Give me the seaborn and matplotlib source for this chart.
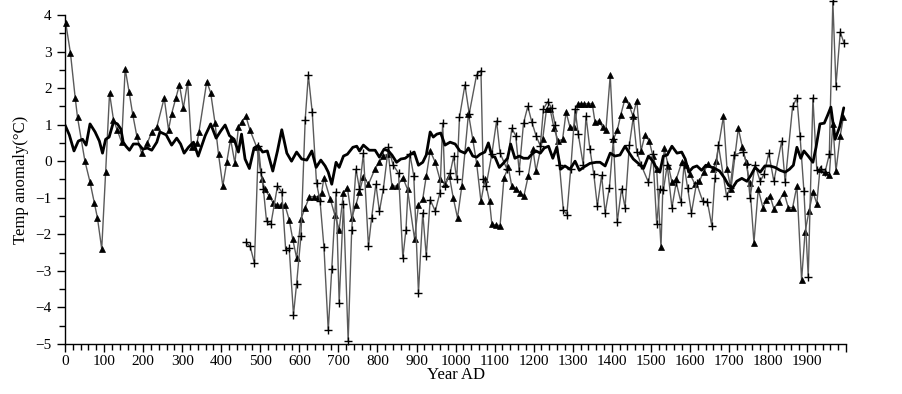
import matplotlib
matplotlib.use("Agg")
import matplotlib.pyplot as plt
import seaborn as sns
import numpy as np
from matplotlib.ticker import MultipleLocator

sns.set_theme(context="paper", style="ticks")
plt.rcParams["font.family"] = ["Liberation Serif", "DejaVu Serif"]

# Triangle series (years, anomaly)
tri_years = [2, 14, 26, 32, 51, 64, 75, 83, 94, 104, 114, 124, 134, 145, 154, 164, 173, 184, 196,
             211, 222, 235, 254, 265, 273, 284, 293, 303, 314, 324, 338, 343, 363, 373, 384, 393,
             404, 414, 424, 435, 444, 452, 463, 474, 491, 504, 512, 523, 533, 543, 553, 563, 574,
             583, 593, 604, 615, 626, 638, 649, 657, 663, 679, 691, 702, 713, 723, 734, 745, 754,
             764, 777, 794, 805, 815, 828, 837, 851, 865, 877, 895, 905, 916, 925, 935, 948, 960,
             973, 984, 994, 1005, 1016, 1033, 1044, 1054, 1065, 1075, 1087, 1093, 1103, 1114, 1124,
             1135, 1144, 1155, 1165, 1175, 1186, 1198, 1206, 1223, 1233, 1242, 1252, 1263, 1274,
             1283, 1293, 1303, 1314, 1322, 1330, 1340, 1350, 1357, 1366, 1377, 1385, 1396, 1404,
             1414, 1423, 1434, 1444, 1454, 1464, 1475, 1485, 1496, 1505, 1515, 1526, 1534, 1545,
             1554, 1565, 1579, 1590, 1600, 1613, 1624, 1635, 1647, 1660, 1667, 1686, 1695, 1705,
             1724, 1734, 1744, 1753, 1764, 1775, 1787, 1795, 1805, 1815, 1827, 1841, 1852, 1863,
             1874, 1886, 1895, 1905, 1915, 1925, 1933, 1946, 1957, 1966, 1974, 1985, 1993]
tri_vals = [3.77, 2.95, 1.74, 1.2, 0.0, -0.57, -1.14, -1.55, -2.4, -0.3, 1.86, 1.14, 0.84, 0.52,
            2.53, 1.9, 1.3, 0.68, 0.22, 0.5, 0.8, 0.93, 1.73, 0.86, 1.3, 1.73, 2.09, 1.45, 2.17,
            0.4, 0.5, 0.8, 2.18, 1.87, 1.05, 0.19, -0.68, -0.03, 0.6, -0.06, 0.94, 1.07, 1.23,
            0.84, 0.38, -0.5, -0.77, -0.96, -1.14, -1.2, -1.2, -1.2, -1.6, -2.13, -2.65, -1.58,
            -1.27, -0.97, -0.97, -0.97, -0.86, -0.45, -1.03, -1.48, -1.87, -0.86, -0.72, -1.55,
            -1.19, -0.84, -0.42, -0.63, -0.2, -0.03, 0.15, 0.19, -0.68, -0.68, -0.45, -0.77,
            -2.13, -1.2, -1.03, -0.41, 0.28, -0.03, -0.5, -0.63, -0.4, -1.0, -1.55, -0.68, 1.3,
            0.6, -0.06, -1.1, -0.5, -1.1, -1.73, -1.75, -1.76, -0.45, -0.17, -0.68, -0.75, -0.86,
            -0.95, -0.41, 0.33, -0.27, 0.6, 1.43, 1.43, 0.9, 0.55, 0.6, 1.34, 0.93, 0.93, 1.57,
            1.57, 1.57, 1.57, 1.57, 1.07, 1.1, 0.93, 0.86, 2.35, 0.6, 0.84, 1.27, 1.71, 1.54,
            1.24, 1.66, 0.28, 0.72, 0.55, 0.15, -0.22, -2.35, 0.35, -0.13, -0.57, -0.5, -0.03,
            -0.1, -0.35, -0.63, -0.55, -0.3, -0.08, -0.22, 0.0, 1.23, -0.2, -0.77, 0.9, 0.4,
            -0.03, -0.6, -2.23, -0.77, -1.27, -1.05, -0.94, -1.3, -1.11, -0.86, -1.27, -1.27,
            -0.68, -3.25, -1.93, -1.37, -0.84, -1.16, -0.22, -0.3, -0.39, 1.02, -0.27, 0.7, 1.2]

# Plus series
plus_years = [463, 474, 485, 495, 502, 508, 516, 527, 544, 555, 565, 574, 585, 593, 604, 615, 623,
              633, 644, 653, 663, 674, 683, 694, 702, 713, 725, 734, 745, 754, 764, 777, 785, 796,
              805, 815, 828, 840, 854, 865, 873, 883, 893, 905, 916, 925, 935, 948, 960, 967, 973,
              986, 995, 1003, 1010, 1024, 1035, 1054, 1065, 1071, 1078, 1093, 1105, 1114, 1131,
              1144, 1154, 1163, 1174, 1185, 1195, 1206, 1217, 1225, 1236, 1246, 1255, 1266, 1276,
              1285, 1295, 1306, 1314, 1327, 1334, 1344, 1354, 1363, 1374, 1383, 1394, 1404, 1414,
              1425, 1434, 1445, 1455, 1464, 1475, 1494, 1505, 1515, 1523, 1532, 1542, 1554, 1565,
              1577, 1585, 1594, 1604, 1617, 1633, 1645, 1656, 1664, 1673, 1694, 1703, 1713, 1736,
              1746, 1754, 1767, 1780, 1790, 1802, 1815, 1835, 1844, 1863, 1874, 1882, 1892, 1903,
              1915, 1925, 1936, 1946, 1957, 1966, 1974, 1985, 1995]
plus_vals = [-2.22, -2.33, -2.79, 0.42, -0.3, -0.77, -1.64, -1.73, -0.68, -0.84, -2.42, -2.38,
             -4.2, -3.35, -2.06, 1.14, 2.35, 1.34, -0.6, -1.09, -2.35, -4.63, -2.95, -0.84, -3.87,
             -1.16, -4.92, -1.89, -0.22, -0.75, 0.22, -2.33, -1.55, -0.63, -1.37, -0.77, 0.38,
             -0.1, -0.33, -2.65, -1.87, 0.19, -0.4, -3.6, -1.41, -2.6, -1.05, -1.37, -0.86, 1.04,
             -0.68, -0.33, 0.13, -0.5, 1.2, 2.09, 1.3, 2.37, 2.48, -0.5, -0.68, 0.2, 1.1, 0.22,
             -0.2, 0.9, 0.7, -0.27, 1.04, 1.5, 1.08, 0.7, 0.42, 1.43, 1.63, 1.46, 1.0, -0.1,
             -1.34, -1.46, -0.2, 1.43, 0.75, -0.1, 1.23, 0.33, -0.36, -1.23, -0.39, -1.41, -0.72,
             0.6, -1.67, -0.75, -1.27, 0.44, 1.2, 0.25, -0.1, -0.58, 0.2, -1.71, -0.77, -0.8,
             -0.11, -1.27, -0.58, -1.12, -0.1, -0.72, -1.41, -0.6, -1.1, -1.12, -1.76, -0.47,
             0.44, -0.96, -0.72, 0.17, 0.25, -0.08, -1.0, -0.1, -0.55, -0.35, 0.22, -0.55, 0.55,
             -0.58, 1.5, 1.73, 0.7, -0.82, -3.16, 1.73, -0.25, -0.2, -0.3, 0.19, 4.38, 2.07, 3.53,
             3.22]

# Thick smoothed series
smooth_years = [0, 11, 23, 34, 45, 54, 64, 77, 88, 96, 104, 113, 124, 134, 143, 149, 156, 165,
                175, 188, 199, 211, 222, 235, 243, 259, 273, 286, 296, 305, 316, 329, 341, 359,
                373, 387, 399, 410, 421, 433, 444, 452, 461, 472, 484, 495, 506, 518, 532, 544,
                555, 568, 580, 593, 606, 619, 632, 643, 655, 666, 674, 683, 694, 702, 713, 723,
                737, 747, 754, 764, 779, 794, 805, 817, 828, 837, 849, 860, 871, 882, 894, 905,
                916, 925, 935, 943, 952, 962, 973, 986, 999, 1011, 1024, 1033, 1044, 1054, 1063,
                1075, 1084, 1093, 1101, 1112, 1122, 1133, 1141, 1152, 1163, 1174, 1186, 1195,
                1206, 1217, 1227, 1238, 1249, 1259, 1269, 1280, 1293, 1306, 1317, 1330, 1344,
                1360, 1370, 1383, 1396, 1408, 1421, 1434, 1445, 1455, 1468, 1481, 1494, 1505,
                1515, 1523, 1532, 1542, 1554, 1567, 1579, 1588, 1597, 1608, 1618, 1630, 1641,
                1652, 1664, 1676, 1688, 1699, 1710, 1720, 1733, 1746, 1756, 1767, 1780, 1792,
                1805, 1818, 1831, 1844, 1855, 1865, 1874, 1884, 1892, 1903, 1915, 1923, 1933,
                1944, 1952, 1961, 1972, 1984, 1994]
smooth_vals = [0.99, 0.72, 0.28, 0.55, 0.6, 0.44, 1.02, 0.8, 0.55, 0.22, 0.6, 0.66, 1.07, 1.02,
               0.88, 0.52, 0.41, 0.3, 0.47, 0.47, 0.33, 0.36, 0.3, 0.52, 0.8, 0.72, 0.44, 0.63,
               0.47, 0.22, 0.38, 0.52, 0.14, 0.7, 1.02, 0.63, 0.83, 0.99, 0.7, 0.6, 0.25, 0.74,
               0.06, -0.2, 0.36, 0.42, 0.25, 0.28, -0.27, 0.28, 0.86, 0.22, 0.0, 0.25, 0.06,
               0.03, 0.28, -0.17, 0.03, -0.13, -0.3, -0.63, -0.03, -0.17, 0.14, 0.19, 0.38, 0.41,
               0.28, 0.44, 0.3, 0.3, 0.11, 0.33, 0.28, 0.17, -0.03, 0.06, 0.08, 0.17, 0.25,
               -0.11, -0.03, 0.17, 0.8, 0.66, 0.74, 0.77, 0.44, 0.52, 0.47, 0.28, 0.22, 0.36,
               0.14, 0.11, 0.19, 0.25, 0.5, 0.14, 0.11, -0.17, -0.06, 0.08, 0.47, 0.08, 0.14,
               0.08, 0.08, 0.19, 0.28, 0.22, 0.36, 0.41, 0.08, 0.38, -0.22, -0.13, -0.22, 0.0,
               -0.25, -0.15, -0.06, -0.03, -0.03, -0.13, 0.22, 0.14, 0.17, 0.41, 0.22, 0.06,
               -0.06, -0.2, 0.14, 0.0, -0.2, -0.3, 0.14, 0.17, 0.41, 0.22, 0.25, 0.06, -0.3,
               -0.17, -0.13, -0.25, -0.11, -0.15, -0.2, -0.27, -0.45, -0.66, -0.72, -0.55, -0.47,
               -0.55, -0.39, -0.17, -0.3, -0.13, -0.13, -0.17, -0.25, -0.3, -0.22, -0.11, 0.38,
               0.08, 0.28, 0.14, -0.03, 0.38, 1.02, 1.04, 1.24, 1.48, 0.6, 0.96, 1.46]

fig, ax = plt.subplots(figsize=(9.03, 3.94), dpi=100)
fig.subplots_adjust(left=0.072, right=0.937, bottom=0.127, top=0.962)

thin = "#5a5a5a"
sns.lineplot(x=tri_years, y=tri_vals, ax=ax, color=thin, linewidth=1.0, marker="^",
             markersize=4, markerfacecolor="black", markeredgecolor="black", markeredgewidth=0.5,
             clip_on=False)
sns.lineplot(x=plus_years, y=plus_vals, ax=ax, color=thin, linewidth=1.0, marker="+",
             markersize=6, markeredgecolor="black", markeredgewidth=1.0, clip_on=False)
sns.lineplot(x=smooth_years, y=smooth_vals, ax=ax, color="black", linewidth=2.0)

ax.set_xlim(0, 2000)
ax.set_ylim(-5, 4)
ax.set_xticks(range(0, 2001, 100))
ax.set_xticklabels([str(v) if v < 2000 else "" for v in range(0, 2001, 100)])
ax.xaxis.set_minor_locator(MultipleLocator(20))
ax.yaxis.set_major_locator(MultipleLocator(1))
ax.yaxis.set_minor_locator(MultipleLocator(0.5))
ax.tick_params(axis="both", which="major", direction="out", length=6, width=1,
               labelsize=11, color="black", labelcolor="black")
ax.tick_params(axis="both", which="minor", direction="out", length=4, width=1, color="black")
ax.tick_params(axis="x", which="major", pad=2)

for side in ["top", "right"]:
    ax.spines[side].set_visible(False)
for side in ["left", "bottom"]:
    ax.spines[side].set_color("black")
    ax.spines[side].set_linewidth(1.0)

ax.set_xlabel("Year AD", fontsize=12, labelpad=-1, color="black")
ax.set_ylabel("Temp anomaly(°C)", fontsize=12, labelpad=5, color="black")

fig.savefig("out.png", dpi=100)
